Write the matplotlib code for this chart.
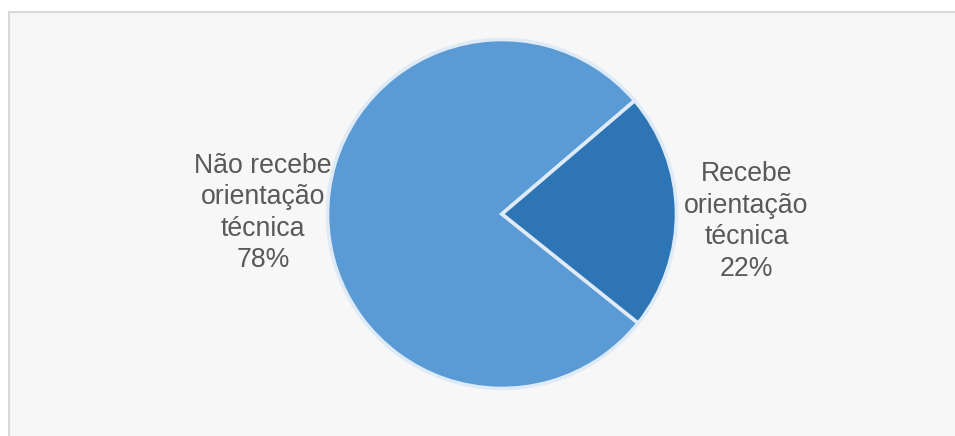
import matplotlib
matplotlib.use("Agg")
import matplotlib.pyplot as plt
from matplotlib.patches import Rectangle

categories = ["Não recebe\norientação\ntécnica", "Recebe\norientação\ntécnica"]
values = [78, 22]
colors = ["#5b9bd5", "#2e75b6"]

W, H = 955, 436
fig = plt.figure(figsize=(W / 100, H / 100), dpi=100)
fig.patch.set_facecolor("white")

# chart area background with light border
bg = Rectangle((8.5 / W, -0.05), 1.1, (H - 11.5) / H + 0.05,
               transform=fig.transFigure, facecolor="#f7f7f7",
               edgecolor="#d9d9d9", linewidth=1.5, zorder=-5)
fig.add_artist(bg)

cx, cy, R = 502, H - 214, 174.5
ax = fig.add_axes([(cx - R) / W, (cy - R) / H, 2 * R / W, 2 * R / H])
ax.set_zorder(2)
ax.set_facecolor("none")
wedges, _ = ax.pie(values, colors=colors, startangle=40.5, counterclock=True,
                   radius=1.0,
                   wedgeprops=dict(edgecolor="#deebf7", linewidth=2.6))
ax.set_xlim(-1.0, 1.0)
ax.set_ylim(-1.0, 1.0)
ax.axis("off")

total = sum(values)
label_pos = [(263, 213), (746.5, 221.5)]
for cat, v, (px, py) in zip(categories, values, label_pos):
    fig.text(px / W, (H - py) / H, f"{cat}\n{round(100 * v / total)}%",
             ha="center", va="center", multialignment="center",
             fontsize=19.2, family="Liberation Sans", color="#595959",
             linespacing=1.27, zorder=3)

fig.savefig("out.png", dpi=100)
